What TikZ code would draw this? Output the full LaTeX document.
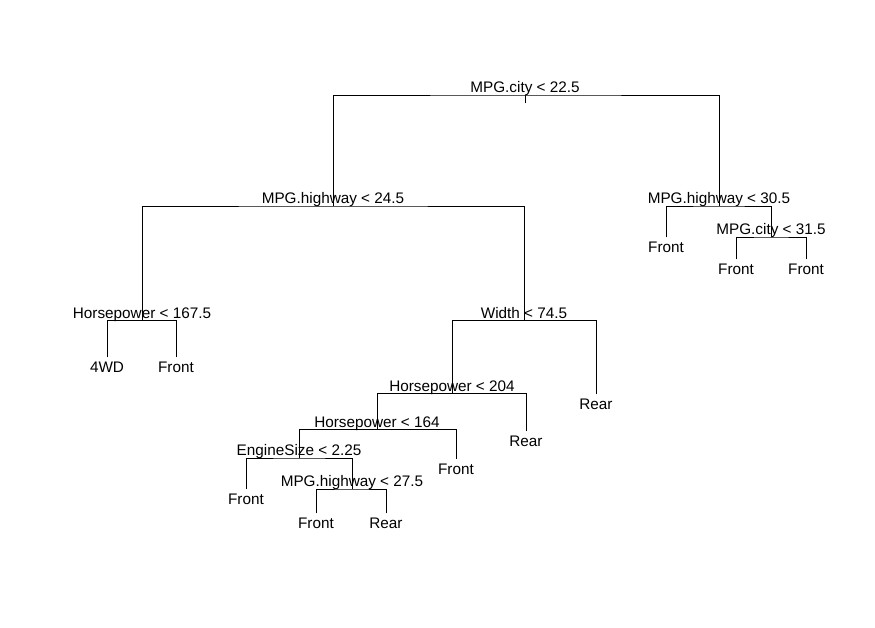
\documentclass[tikz,border=0pt]{standalone}
\usepackage{fontspec}
\setmainfont{Liberation Sans}
\begin{document}
\begin{tikzpicture}[x=1pt,y=-1pt,
  edge/.style={line width=0.9pt, line cap=rect},
  split/.style={anchor=base, inner sep=0pt, font=\fontsize{15.3}{18}\selectfont},
  leaflabel/.style={anchor=base, inner sep=0pt, font=\fontsize{15.3}{18}\selectfont}]
\useasboundingbox (0,0) rectangle (875,627);

% split points (x of the split, y of its horizontal bar)
\coordinate (root) at (525,95);
\coordinate (roottail) at (525,103);
\coordinate (n2) at (333,206);
\coordinate (n3) at (719,206);
\coordinate (n4) at (142,320.5);
\coordinate (n5) at (524,320.5);
\coordinate (n6) at (452,393.5);
\coordinate (n7) at (377,429.5);
\coordinate (n8) at (299,458);
\coordinate (n9) at (352,489);
\coordinate (n10) at (771,237);

% leaf ends
\coordinate (f1) at (107,357);
\coordinate (f2) at (176,357);
\coordinate (f3) at (596,394);
\coordinate (f4) at (526,431);
\coordinate (f5) at (456,458.5);
\coordinate (f6) at (246,488.5);
\coordinate (f7) at (316,513);
\coordinate (f8) at (386,513);
\coordinate (f9) at (666,237);
\coordinate (f10) at (736,259);
\coordinate (f11) at (806,259);

% branches
\draw[edge] (root) -- (roottail);
\draw[edge] (n2) |- (root) -| (n3);
\draw[edge] (n4) |- (n2) -| (n5);
\draw[edge] (f1) |- (n4) -| (f2);
\draw[edge] (n6) |- (n5) -| (f3);
\draw[edge] (n7) |- (n6) -| (f4);
\draw[edge] (n8) |- (n7) -| (f5);
\draw[edge] (f6) |- (n8) -| (n9);
\draw[edge] (f7) |- (n9) -| (f8);
\draw[edge] (f9) |- (n3) -| (n10);
\draw[edge] (f10) |- (n10) -| (f11);

% split labels
\node[split] (t1) at ([yshift=2.5pt]root) {MPG.city < 22.5};
\node[split] (t2) at ([yshift=2.5pt]n2) {MPG.highway < 24.5};
\node[split] (t3) at ([yshift=2.5pt]n3) {MPG.highway < 30.5};
\node[split] (t4) at ([yshift=2.5pt]n4) {Horsepower < 167.5};
\node[split] (t5) at ([yshift=2.5pt]n5) {Width < 74.5};
\node[split] (t6) at ([yshift=2.5pt]n6) {Horsepower < 204};
\node[split] (t7) at ([yshift=2.5pt]n7) {Horsepower < 164};
\node[split] (t8) at ([yshift=2.5pt]n8) {EngineSize < 2.25};
\node[split] (t9) at ([yshift=2.5pt]n9) {MPG.highway < 27.5};
\node[split] (t10) at ([yshift=2.5pt]n10) {MPG.city < 31.5};

% leaf labels
\node[leaflabel] (l1) at ([yshift=-15.8pt]f1) {4WD};
\node[leaflabel] (l2) at ([yshift=-15.8pt]f2) {Front};
\node[leaflabel] (l3) at ([yshift=-15.8pt]f3) {Rear};
\node[leaflabel] (l4) at ([yshift=-15.8pt]f4) {Rear};
\node[leaflabel] (l5) at ([yshift=-15.8pt]f5) {Front};
\node[leaflabel] (l6) at ([yshift=-15.8pt]f6) {Front};
\node[leaflabel] (l7) at ([yshift=-15.8pt]f7) {Front};
\node[leaflabel] (l8) at ([yshift=-15.8pt]f8) {Rear};
\node[leaflabel] (l9) at ([yshift=-15.8pt]f9) {Front};
\node[leaflabel] (l10) at ([yshift=-15.8pt]f10) {Front};
\node[leaflabel] (l11) at ([yshift=-15.8pt]f11) {Front};
\end{tikzpicture}
\end{document}
